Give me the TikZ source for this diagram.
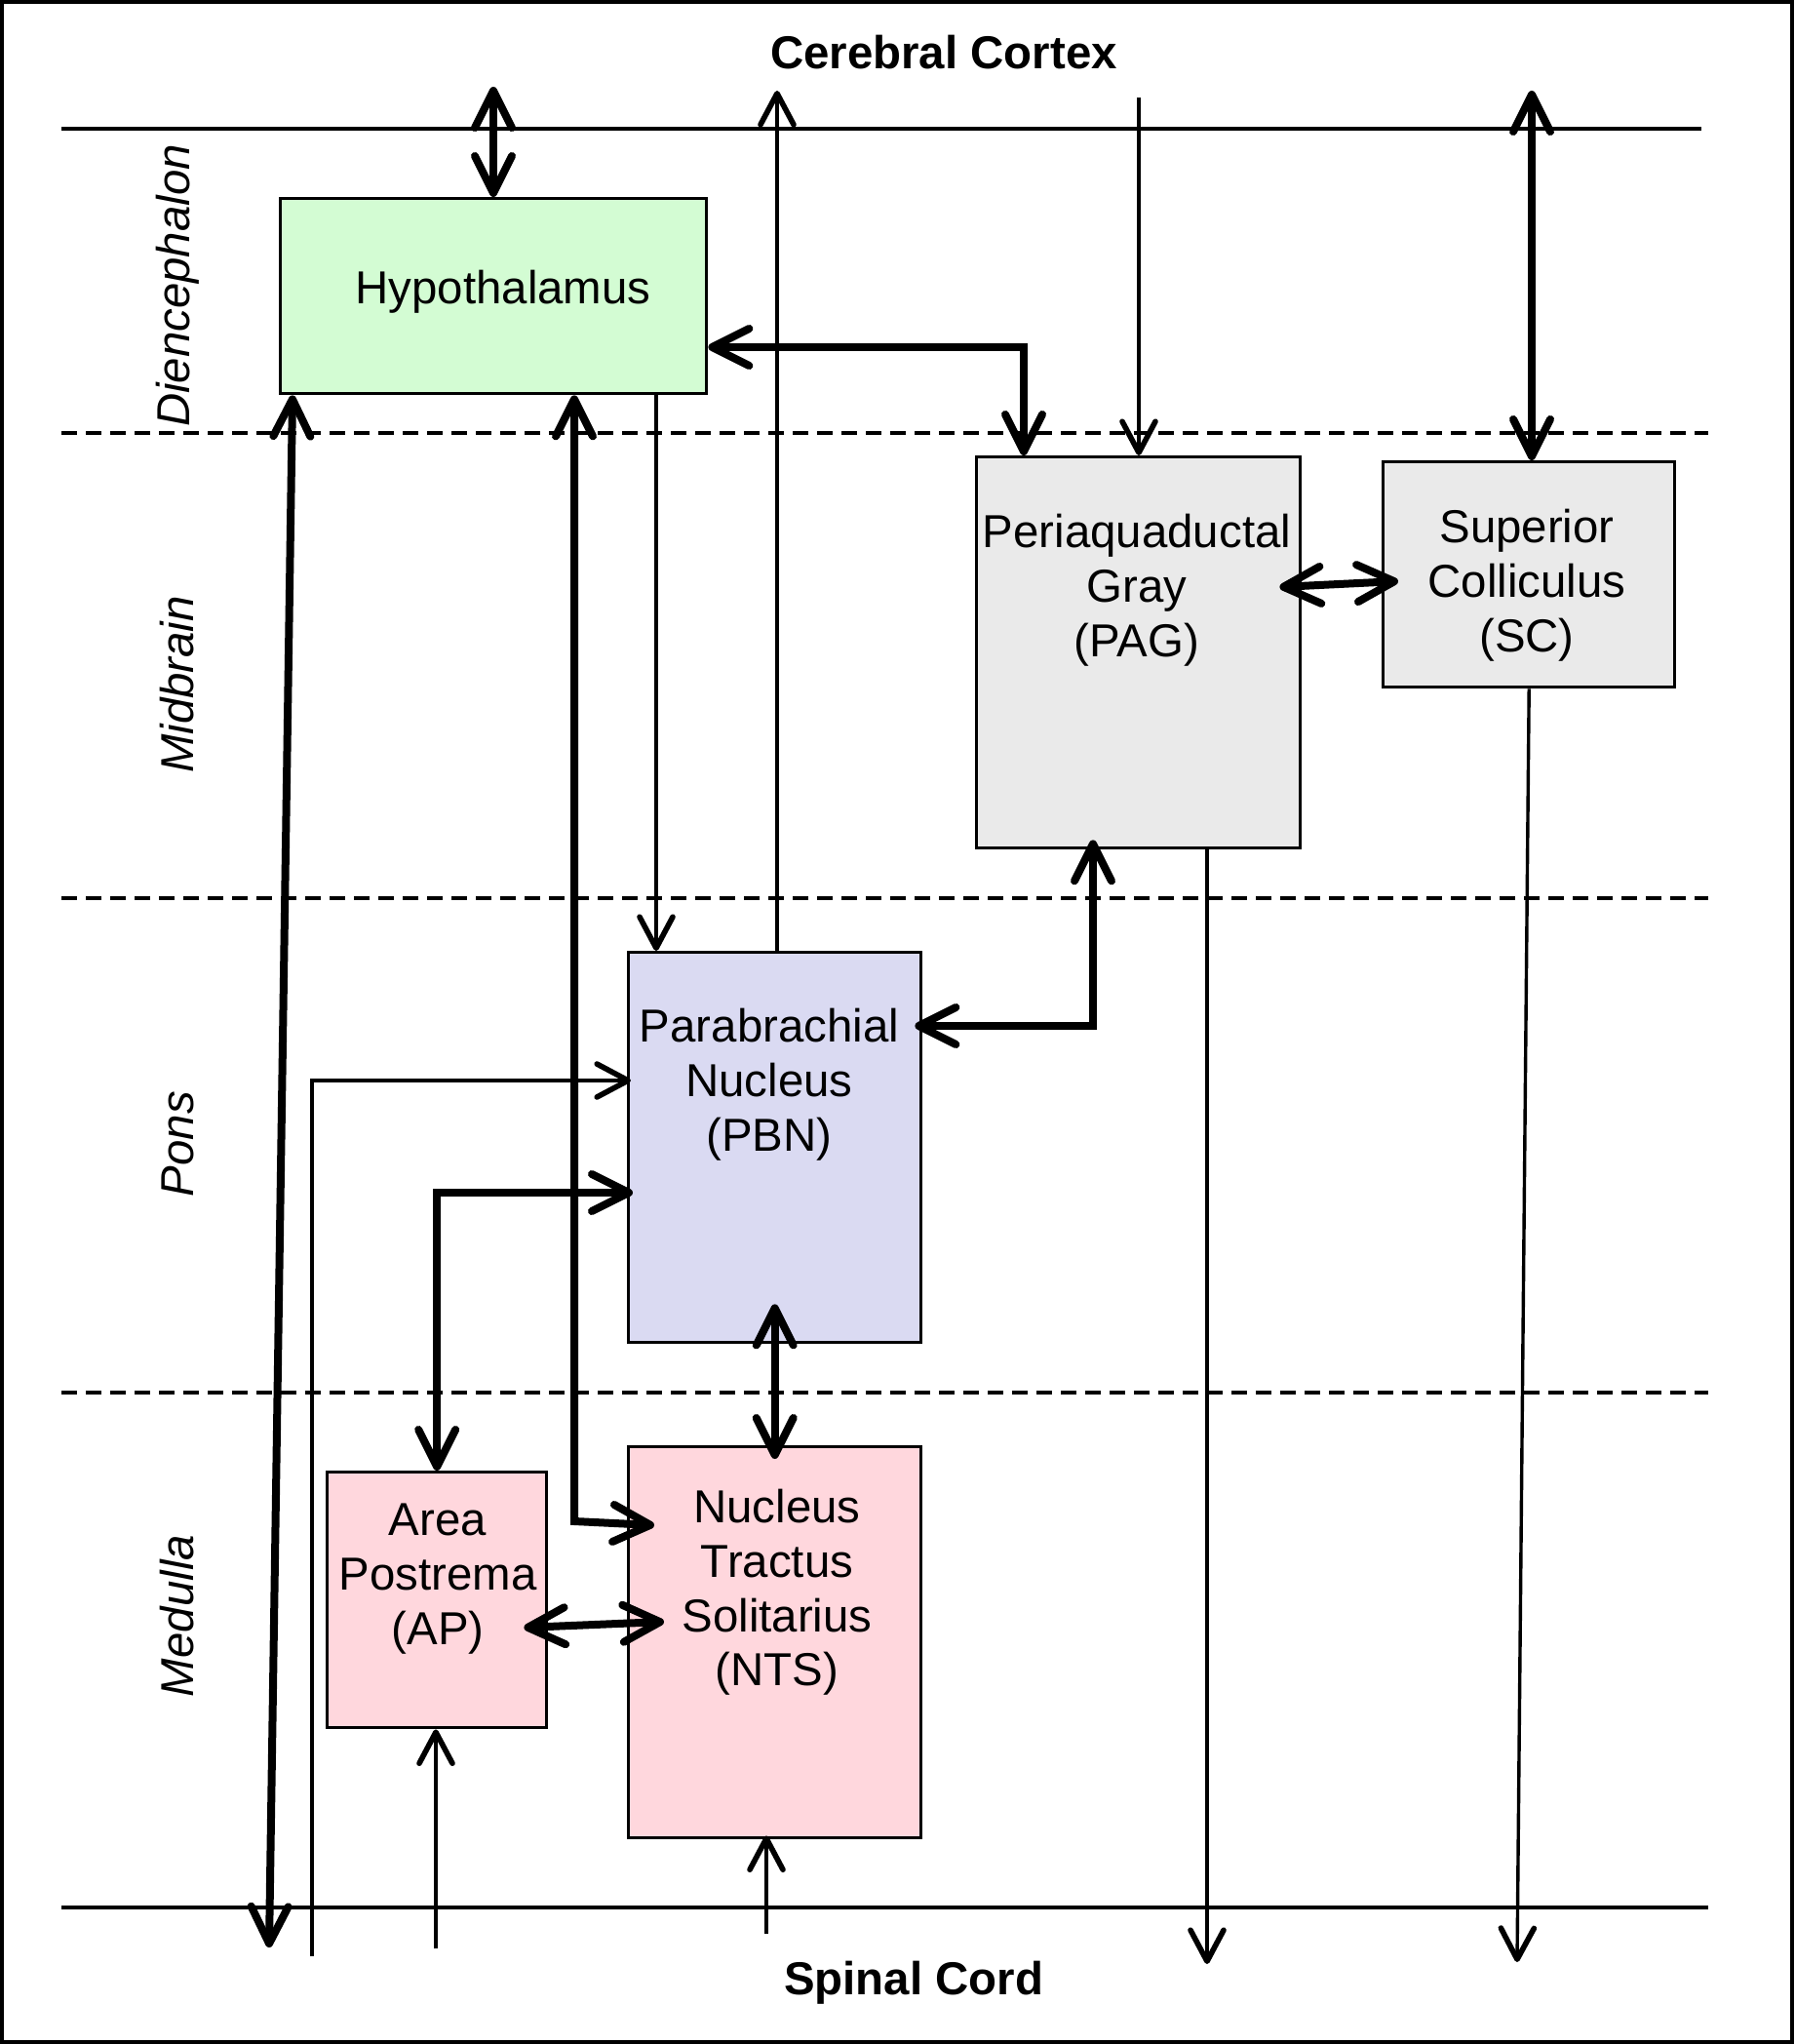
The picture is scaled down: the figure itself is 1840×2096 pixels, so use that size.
\documentclass[tikz,border=0pt]{standalone}
\usepackage{fontspec}
\setmainfont{Liberation Sans}
\usepackage{tikz}
\usetikzlibrary{arrows.meta, calc}
\definecolor{hypgreen}{RGB}{211, 252, 211}
\definecolor{midgray}{RGB}{234, 234, 234}
\definecolor{ponsblue}{RGB}{218, 218, 242}
\definecolor{medpink}{RGB}{255, 215, 221}

\begin{document}
\begin{tikzpicture}[
  x=0.5pt, y=-0.5pt,
  region/.style={rectangle, draw, line width=1.7pt, inner sep=0pt, anchor=north west},
  txt/.style={align=center, font=\fontsize{23.7pt}{27.9pt}\selectfont},
  ttl/.style={font=\fontsize{23.7pt}{27.7pt}\selectfont\bfseries},
  side/.style={font=\fontsize{23.7pt}{27.7pt}\selectfont\itshape, rotate=90},
  border/.style={line width=1.7pt},
  level/.style={line width=1.7pt, dash pattern=on 8pt off 4.5pt},
  fib/.style={line width=1.7pt, arrows={-Straight Barb[round, length=16pt, width=17pt, line width=2.8pt]}},
  tract/.style={line width=4pt, arrows={Straight Barb[round, length=19pt, width=19pt]-Straight Barb[round, length=19pt, width=19pt]}}
]
\useasboundingbox (0,0) rectangle (1840,2096);
\draw[line width=2pt] (2,2) rectangle (1838,2094);

% levels
\draw[border] (63,132) -- (1745,132);
\foreach \y in {444,921,1428}
  \draw[level] (63,\y) -- (1752,\y);
\draw[border] (63,1956) -- (1752,1956);

\node[ttl] (cortex) at (968,54) {Cerebral Cortex};
\node[ttl] (spinal) at (937,2033) {Spinal Cord};

\node[side] (dien) at (182,293) {Diencephalon};
\node[side] (midb) at (182,702) {Midbrain};
\node[side] (pons) at (182,1173) {Pons};
\node[side] (medu) at (182,1657) {Medulla};

% nuclei
\node[region, fill=hypgreen, minimum width=218.5pt, minimum height=100pt] (hypo) at (286,202) {};
\node[region, fill=midgray, minimum width=166pt, minimum height=200.5pt] (pag) at (1000,467) {};
\node[region, fill=midgray, minimum width=149.5pt, minimum height=115.5pt] (sc) at (1417,472) {};
\node[region, fill=ponsblue, minimum width=150pt, minimum height=200pt] (pbn) at (643,975) {};
\node[region, fill=medpink, minimum width=112.5pt, minimum height=131pt] (ap) at (334,1508) {};
\node[region, fill=medpink, minimum width=150pt, minimum height=200.5pt] (nts) at (643,1482) {};

\node[txt] (hypo-t) at (516,299) {Hypothalamus};
\node[txt] (pag-t) at (1166,605) {Periaquaductal\\Gray\\(PAG)};
\node[txt] (sc-t) at (1566,600) {Superior\\Colliculus\\(SC)};
\node[txt] (pbn-t) at (789,1112) {Parabrachial\\Nucleus\\(PBN)};
\node[txt] (ap-t) at (449,1619) {Area\\Postrema\\(AP)};
\node[txt] (nts-t) at (797,1633) {Nucleus\\Tractus\\Solitarius\\(NTS)};

% free ends
\coordinate (cHtop) at (506,89);
\coordinate (cPBup) at (797,93);
\coordinate (cPAGin) at (1168,100);
\coordinate (cSCup) at (1571,93);
\coordinate (cHP) at (1050,356);
\coordinate (cHS) at (276,1997);
\coordinate (cHN) at (589,1560);
\coordinate (cPP) at (1121,1052);
\coordinate (cPAGout) at (1238,2014);
\coordinate (cSCout) at (1556,2012);
\coordinate (cSP) at (320,2006);
\coordinate (cSA) at (447,1998);
\coordinate (cSN) at (786,1983);

% connections
\draw[tract] (cHtop) -- (cHtop |- hypo.north);
\draw[fib] (cPBup |- pbn.north) -- (cPBup);
\draw[fib] (cPAGin) -- (cPAGin |- pag.north);
\draw[tract] (cSCup) -- (cSCup |- sc.north);
\draw[tract] (cHP -| hypo.east) -- (cHP) -- (cHP |- pag.north);
\draw[tract] ($(hypo.south west)+(14,0)$) -- (cHS);
\draw[tract] ($(hypo.south west)+(303,0)$) -- (cHN) -- ($(nts.north west)+(28,82)$);
\draw[fib] ($(hypo.south west)+(387,0)$) -- ($(pbn.north west)+(30,0)$);
\draw[tract] ($(cPP -| pbn.east)+(-8,0)$) -- (cPP) -- ($(cPP |- pag.south)+(0,-10)$);
\draw[fib] (cPAGout |- pag.south) -- (cPAGout);
\draw[fib] (sc.south) -- (cSCout);
\draw[tract] ($(pag.north east)+(-23,135)$) -- ($(sc.north west)+(17,124)$);
\draw[fib] (cSP) |- ($(pbn.north west)+(4,133)$);
\draw[tract] (ap.north) |- ($(pbn.north west)+(6,248)$);
\draw[tract] ($(pbn.south)+(0,-41)$) -- ($(nts.north)+(0,14)$);
\draw[tract] ($(ap.north east)+(-25,161)$) -- ($(nts.north west)+(38,181)$);
\draw[fib] (cSA) -- (cSA |- ap.south);
\draw[fib] (cSN) -- ($(cSN |- nts.south)+(0,-4)$);

\end{tikzpicture}
\end{document}
